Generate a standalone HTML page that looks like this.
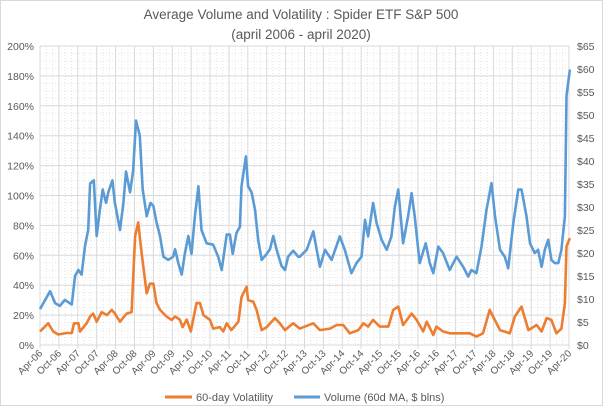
<!DOCTYPE html>
<html><head><meta charset="utf-8"><style>
body{margin:0;background:#fff;}
svg{display:block;font-family:"Liberation Sans",sans-serif;}
</style></head><body>
<svg id="chart" width="603" height="406">
<rect x="0.5" y="0.5" width="602" height="405" fill="#fff" stroke="#d9d9d9"/>
<text x="301" y="19" text-anchor="middle" font-size="13.5" fill="#595959">Average Volume and Volatility : Spider ETF S&amp;P 500</text>
<text x="301" y="39" text-anchor="middle" font-size="13.5" fill="#595959">(april 2006 - april 2020)</text>
<g id="grid"></g><g id="axes"></g><g id="series"></g>
<g>
<line x1="165" y1="397" x2="192" y2="397" stroke="#ED7D31" stroke-width="3"/>
<text x="196" y="401" font-size="11" fill="#595959">60-day Volatility</text>
<line x1="294" y1="397" x2="320" y2="397" stroke="#5B9BD5" stroke-width="3"/>
<text x="324" y="401" font-size="11" fill="#595959">Volume (60d MA, $ blns)</text>
</g>
</svg>
<script>
const xLabels=["Apr-06","Oct-06","Apr-07","Oct-07","Apr-08","Oct-08","Apr-09","Oct-09","Apr-10","Oct-10","Apr-11","Oct-11","Apr-12","Oct-12","Apr-13","Oct-13","Apr-14","Oct-14","Apr-15","Oct-15","Apr-16","Oct-16","Apr-17","Oct-17","Apr-18","Oct-18","Apr-19","Oct-19","Apr-20"];
const leftTicks=["0%","20%","40%","60%","80%","100%","120%","140%","160%","180%","200%"];
const rightTicks=["$0","$5","$10","$15","$20","$25","$30","$35","$40","$45","$50","$55","$60","$65"];
// months since Apr-2006, volume in $ blns
const volMonths=[0,3.2,4.8,6.3,7.9,10.1,11.1,12.2,13.2,14.3,15.3,15.9,17.1,18,19,19.9,21,21.7,23,23.8,25.4,26.5,27.3,28.6,29.6,30.5,31.7,32.6,33.9,35.1,36,37,38.1,39.2,40.7,42.3,42.9,43.9,45,46,47.1,48.1,49.2,50.3,51.3,52.9,55,56.6,57.7,59.3,60.3,61.2,62.4,63.5,64,65.4,66.1,67.2,68.3,69.3,70.4,72,73,74.1,75.1,76.7,77.8,78.8,80.4,82,82.5,84.7,86.8,88.9,90.5,92.6,95.2,96.8,98.9,100.5,102.1,103.2,104.2,105.8,106.9,108.5,110.1,111.6,112.7,113.8,115.3,116.9,118,119,120.6,122.5,123.8,124.9,126.5,128,130.1,132.3,134.4,136,137,138.6,140.2,141.8,143.4,144.5,146.1,147.6,148.7,150.3,151.9,152.9,154.5,155.6,157.1,158.2,159.3,160.3,161.4,162.4,163.5,164.6,165.6,166.7,167.2,168.3];
const volumeValues=[7.8,11.7,9.1,8.5,9.8,8.8,15,16.3,15.3,21.5,25,35.1,35.8,23.7,29.3,33.8,30.9,33.2,35.8,30.9,25,30.9,37.7,33.2,38,48.8,45.5,33.8,28,30.9,30.2,26.7,23.7,19.2,18.5,19.2,20.8,17.9,15.3,19.8,23.7,19.8,28,34.5,25,22.1,21.8,19.2,16.3,24,24,19.8,24.4,25.7,34.5,41,34.5,33.2,29.3,22.8,18.5,19.8,20.8,23.7,20.8,17.2,16.3,19.2,20.5,19.2,19.2,20.7,24.7,17,20.7,18.5,23.6,20.7,15.6,17.8,19.2,27.2,23.6,30.9,26.5,22.9,20.7,23.6,30.1,33.8,22.1,28,33,28,17.8,22.1,17.8,15.6,21.4,20,16.3,19.2,17,14.9,16.3,15.6,21.4,29.4,35.2,28,20.7,19.2,16.7,26.5,33.8,33.8,28,22.1,20,20.7,17,20.7,22.9,18.5,17.8,17.8,20.7,28,54.1,59.9];
const volaMonths=[0,2.6,4.2,5.8,8.5,10.1,10.8,12.2,12.7,14.8,15.9,16.9,18,19.6,21.2,22.8,23.8,25.4,27.5,29.1,30.2,31.2,32.3,33.9,34.9,36,37,38.1,40.2,41.8,42.9,44.4,45.3,46.6,47.9,49.7,50.8,51.9,54,55,57.1,58.2,59.3,60.8,63,64,65.6,66.1,67.7,68.8,70.4,72,74.6,76.2,77.8,80.4,82.5,86.8,88.9,92.1,94.2,96.3,98.4,101.1,102.7,104.2,105.8,107.9,110.6,112.2,113.8,115.3,118,119.6,121.7,122.8,124.9,125.9,128,130.1,133.3,136.5,138.6,140.7,142.8,143.9,146.1,149.2,150.8,152.9,155.1,157.7,159.3,160.9,162.4,164,165.6,166.7,167.2,168.3];
const volatilityValues=[9,14.5,9,7,8,8,14.5,14.5,9,14.5,19,21,15.6,22,20,23.5,21,15.6,21,22,72.6,82,61,34.6,41,41,28,23.5,19,16.8,19,17,12,17,9,28,28,20,16.8,11,12,9,14.5,10,15.6,32,39,30,29,23.5,10,12,18,14.5,10,14.5,11,14.5,10,11,13.4,13.4,7.8,10,14.5,12.3,16.8,12.3,12.3,23.5,25.7,13.4,21,16.8,9,15.6,6.7,12.3,9,7.8,7.8,7.8,5.6,7.8,23.5,19,10,7.8,19,25.7,10,13.4,9,18,16.8,7.8,11,28,66,71.5];

const NS="http://www.w3.org/2000/svg";
const X0=40,X1=569,Y0=345,Y1=46,MAXM=168;
const xS=m=>X0+(m/MAXM)*(X1-X0);
const yL=p=>Y0-(p/200)*(Y0-Y1);
const yR=d=>Y0-(d/65)*(Y0-Y1);
function mk(tag,attrs,parent){const e=document.createElementNS(NS,tag);for(const k in attrs)e.setAttribute(k,attrs[k]);parent.appendChild(e);return e;}
const grid=document.getElementById('grid'),axes=document.getElementById('axes'),ser=document.getElementById('series');
// minor dotted grid
for(let i=0;i<=40;i++){const y=yL(i*5);if(i%4)mk('line',{x1:X0,x2:X1,y1:y,y2:y,stroke:'#e4e4e4','stroke-dasharray':'1,2'},grid);}
for(let i=0;i<xLabels.length-1;i++){for(let j=1;j<3;j++){const x=xS(i*6+j*2);mk('line',{x1:x,x2:x,y1:Y1,y2:Y0,stroke:'#e4e4e4','stroke-dasharray':'1,2'},grid);}}
// major grid + left ticks
leftTicks.forEach((t,i)=>{const y=yL(i*20);
const g=mk('line',{x1:X0,x2:X1,y1:y,y2:y,stroke:'#d9d9d9'},grid);


const tx=mk('text',{x:34,y:y+4,'text-anchor':'end','font-size':'10.5',fill:'#595959'},axes);tx.textContent=t;

});
rightTicks.forEach((t,i)=>{const y=yR(i*5);
const tx=mk('text',{x:577,y:y+4,'font-size':'10.5',fill:'#595959'},axes);tx.textContent=t;

});
xLabels.forEach((t,i)=>{const x=xS(i*6);
const g=mk('line',{x1:x,x2:x,y1:Y1,y2:Y0+4,stroke:'#d9d9d9'},grid);


const tx=mk('text',{x:x+3,y:Y0+9,'text-anchor':'end','font-size':'10',fill:'#595959',transform:`rotate(-45 ${x+3} ${Y0+9})`},axes);tx.textContent=t;

});
mk('line',{x1:X0,x2:X1,y1:Y0,y2:Y0,stroke:'#d9d9d9'},grid);
function path(ms,vs,yf,color,name){let d='';ms.forEach((m,i)=>{d+=(i?'L':'M')+xS(m).toFixed(1)+','+yf(vs[i]).toFixed(1);});
const p=mk('path',{d:d,fill:'none',stroke:color,'stroke-width':'2.6','stroke-linejoin':'round'},ser);

}
path(volMonths,volumeValues,yR,'#5B9BD5','volume-line');
path(volaMonths,volatilityValues,yL,'#ED7D31','volatility-line');
</script>
</body></html>
